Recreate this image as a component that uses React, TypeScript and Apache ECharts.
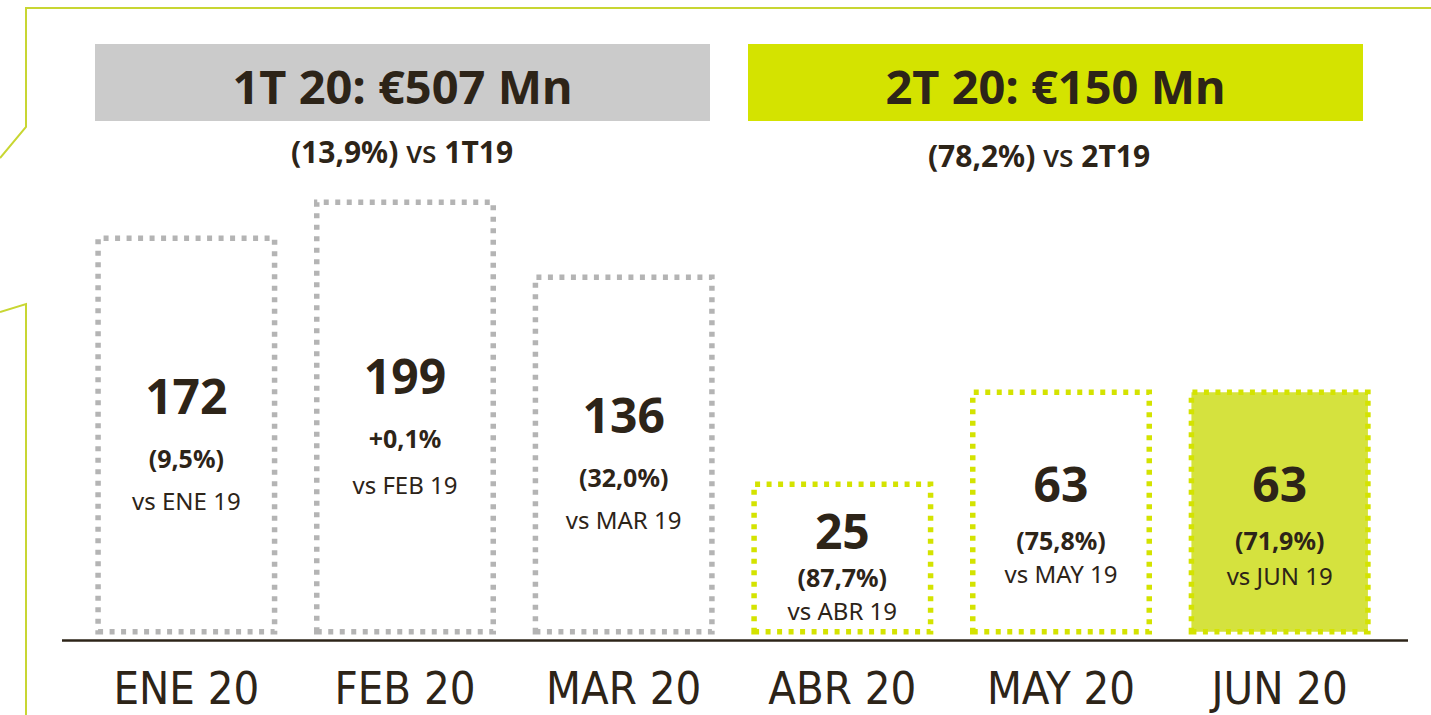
import React, { useEffect, useRef } from "react";
import * as echarts from "echarts";

// ---- data ----
const months = ["ENE 20", "FEB 20", "MAR 20", "ABR 20", "MAY 20", "JUN 20"];
const amounts = [172, 199, 136, 25, 63, 63]; // € Mn shown in each box
const changes = ["(9,5%)", "+0,1%", "(32,0%)", "(87,7%)", "(75,8%)", "(71,9%)"];
const compareLabels = ["vs ENE 19", "vs FEB 19", "vs MAR 19", "vs ABR 19", "vs MAY 19", "vs JUN 19"];
// drawn box heights as they appear in the infographic (not to scale with amounts)
const boxHeights = [399, 435, 360, 153, 245, 245];
const quarterOfMonth = [0, 0, 0, 1, 1, 1];
const filledMonth = [false, false, false, false, false, true];

const quarterTitles = ["1T 20: €507 Mn", "2T 20: €150 Mn"];
const quarterChanges = ["(13,9%)", "(78,2%)"];
const quarterCompare = ["1T19", "2T19"];

// ---- styles ----
const INK = "#2d2418";
const GREY_DOT = "#b4b4b4";
const GREEN_DOT = "#d4e300";
const GREEN_FILL = "#d5e23e";
const HEADER_GREY = "#cbcbcb";
const HEADER_GREEN = "#d4e300";
const FRAME = "#c8d632";
const FONT = "'Noto Sans', 'Open Sans', sans-serif";
const NARROW = "'Liberation Sans Narrow', 'DejaVu Sans Condensed', 'Noto Sans', sans-serif";

// per-box label line layout: [value line, change line, compare line, vertical offset]
const labelLayout = [
  [96, 30, 54, 2],
  [96, 30, 62, 4],
  [94, 30, 56, 3],
  [64, 30, 36, 5],
  [84, 30, 36, 4],
  [84, 30, 40, 6],
];

export default function App() {
  const ref = useRef<HTMLDivElement>(null);

  useEffect(() => {
    if (!ref.current) return;
    const chart = echarts.init(ref.current, undefined, { renderer: "svg" });

    const data = boxHeights.map((h, i) => {
      const green = quarterOfMonth[i] === 1;
      const [l1, l2, l3, off] = labelLayout[i];
      return {
        value: h,
        itemStyle: {
          color: filledMonth[i] ? GREEN_FILL : "#ffffff",
          borderColor: green ? GREEN_DOT : GREY_DOT,
          borderWidth: 5.5,
          borderType: [5, 6.5] as any,
          borderCap: "butt",
        },
        label: {
          show: true,
          position: "inside",
          offset: [0, off],
          formatter: `{v|${amounts[i]}}\n{p|${changes[i]}}\n{s|${compareLabels[i]}}`,
          rich: {
            v: { fontFamily: FONT, fontSize: 48, fontWeight: "bold", color: INK, lineHeight: l1, align: "center" },
            p: { fontFamily: FONT, fontSize: 25, fontWeight: "bold", color: INK, lineHeight: l2, align: "center" },
            s: { fontFamily: FONT, fontSize: 24, fontWeight: "normal", color: INK, lineHeight: l3, align: "center" },
          },
        },
      };
    });

    const headerBoxes = [
      { x: 95, w: 615, fill: HEADER_GREY },
      { x: 748, w: 615, fill: HEADER_GREEN },
    ];
    const subCenters = [
      { x: 402, y: 151 },
      { x: 1039, y: 155 },
    ];

    const graphics: any[] = [
      {
        type: "polyline",
        silent: true,
        shape: { points: [[0, 158], [26, 127], [26, 8], [1431, 8]] },
        style: { stroke: FRAME, lineWidth: 2, fill: "none" },
      },
      {
        type: "polyline",
        silent: true,
        shape: { points: [[0, 312], [26, 304], [26, 715]] },
        style: { stroke: FRAME, lineWidth: 2, fill: "none" },
      },
      {
        type: "line",
        silent: true,
        shape: { x1: 62, y1: 640.5, x2: 1408, y2: 640.5 },
        style: { stroke: INK, lineWidth: 2.5 },
      },
    ];
    headerBoxes.forEach((b, q) => {
      graphics.push({
        type: "rect",
        silent: true,
        shape: { x: b.x, y: 44, width: b.w, height: 77 },
        style: { fill: b.fill },
      });
      graphics.push({
        type: "text",
        silent: true,
        x: b.x + b.w / 2,
        y: 86,
        style: {
          text: quarterTitles[q],
          fill: INK,
          font: `bold 47px ${FONT}`,
          align: "center",
          verticalAlign: "middle",
        },
      });
      graphics.push({
        type: "text",
        silent: true,
        x: subCenters[q].x,
        y: subCenters[q].y,
        style: {
          text: `{b|${quarterChanges[q]}}{n| vs }{b|${quarterCompare[q]}}`,
          align: "center",
          verticalAlign: "middle",
          fontSize: 30,
          fontFamily: FONT,
          rich: {
            b: { fontFamily: FONT, fontSize: 30, fontWeight: "bold", fill: INK, color: INK },
            n: { fontFamily: FONT, fontSize: 30, fontWeight: 500, fill: INK, color: INK },
          },
        },
      });
    });

    chart.setOption({
      animation: false,
      backgroundColor: "#ffffff",
      grid: { left: 77, right: 42, top: 34.5, bottom: 80.5 },
      xAxis: {
        type: "category",
        data: months,
        axisLine: { show: false },
        axisTick: { show: false },
        axisLabel: {
          color: INK,
          fontFamily: NARROW,
          fontSize: 45,
          margin: 31,
        },
      },
      yAxis: { type: "value", min: 0, max: 600, show: false, splitLine: { show: false } },
      series: [
        {
          type: "bar",
          barWidth: 182,
          data,
        },
      ],
      graphic: graphics,
    });

    return () => chart.dispose();
  }, []);

  return (
    <div
      ref={ref}
      style={{ position: "fixed", left: 0, top: 0, width: 1431, height: 715, background: "#fff" }}
    />
  );
}
